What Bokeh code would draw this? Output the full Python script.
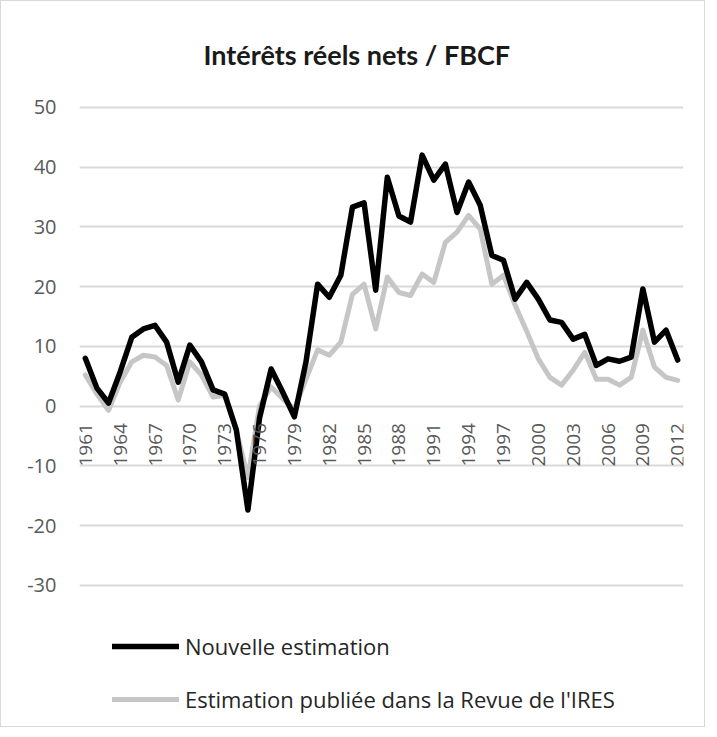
import math
from bokeh.plotting import figure
from bokeh.models import Range1d, FixedTicker, Legend, LegendItem, ColumnDataSource
from bokeh.core.properties import value
from bokeh.embed import file_html
from bokeh.resources import INLINE

# ---------------- data ----------------
years = [1961, 1962, 1963, 1964, 1965, 1966, 1967, 1968, 1969, 1970,
         1971, 1972, 1973, 1974, 1975, 1976, 1977, 1978, 1979, 1980,
         1981, 1982, 1983, 1984, 1985, 1986, 1987, 1988, 1989, 1990,
         1991, 1992, 1993, 1994, 1995, 1996, 1997, 1998, 1999, 2000,
         2001, 2002, 2003, 2004, 2005, 2006, 2007, 2008, 2009, 2010,
         2011, 2012]

nouvelle = [8.0, 3.0, 0.5, 5.7, 11.5, 12.9, 13.5, 10.7, 4.0, 10.2,
            7.4, 2.7, 2.0, -4.0, -17.4, -2.0, 6.2, 2.3, -1.8, 7.4,
            20.4, 18.2, 21.9, 33.3, 34.0, 19.4, 38.3, 31.8, 30.8, 42.0,
            37.8, 40.5, 32.4, 37.5, 33.6, 25.2, 24.4, 17.9, 20.7, 17.9,
            14.4, 14.0, 11.2, 12.0, 6.8, 7.9, 7.5, 8.2, 19.6, 10.7,
            12.7, 7.7]

ires = [5.2, 2.0, -0.7, 4.0, 7.4, 8.5, 8.2, 6.8, 1.0, 7.4,
        5.2, 1.5, 1.8, -4.0, -12.0, 0.0, 3.2, 1.2, -0.5, 4.5,
        9.4, 8.5, 10.7, 18.7, 20.4, 12.9, 21.6, 19.0, 18.5, 22.1,
        20.7, 27.4, 29.1, 31.9, 29.6, 20.4, 21.9, 16.9, 12.5, 7.9,
        4.8, 3.5, 6.0, 9.0, 4.5, 4.5, 3.5, 4.8, 12.7, 6.5,
        4.8, 4.3]

tick_years = [1961, 1964, 1967, 1970, 1973, 1976, 1979, 1982, 1985,
              1988, 1991, 1994, 1997, 2000, 2003, 2006, 2009, 2012]
tick_labels = [str(y) for y in tick_years]
tick_base = [0] * len(tick_years)

y_ticks = [-30, -20, -10, 0, 10, 20, 30, 40, 50]
y_tick_labels = {t: str(t) for t in y_ticks}

title_text = "Intérêts réels nets / FBCF"
legend_labels = ["Nouvelle estimation",
                 "Estimation publiée dans la Revue de l'IRES"]

# ---------------- figure ----------------
p = figure(width=705, height=727, output_backend="svg", toolbar_location=None,
           x_range=Range1d(1960.5, 2012.5), y_range=Range1d(-52.46, 50.3),
           min_border_left=78, min_border_right=23,
           min_border_top=104, min_border_bottom=9)
p.styles = {"border": "1px solid #d9d9d9"}
p.outline_line_color = None
p.background_fill_color = "white"
p.border_fill_color = "white"

# title
p.title.text = title_text
p.title.text_font = "Lato"
p.title.text_font_style = "bold"
p.title.text_font_size = "27px"
p.title.text_color = "#1a1a1a"
p.title.align = "left"
p.title.offset = 124
p.title.standoff = 69

# axes
p.xaxis.visible = False
p.xgrid.visible = False
p.yaxis.ticker = FixedTicker(ticks=y_ticks)
p.yaxis.major_label_overrides = y_tick_labels
p.yaxis.axis_line_color = None
p.yaxis.major_tick_line_color = None
p.yaxis.minor_tick_line_color = None
p.yaxis.major_label_standoff = 17
p.yaxis.major_label_text_font = "Open Sans"
p.yaxis.major_label_text_font_size = "20px"
p.yaxis.major_label_text_color = "#595959"

p.ygrid.ticker = FixedTicker(ticks=y_ticks)
p.ygrid.grid_line_color = "#d9d9d9"
p.ygrid.grid_line_width = 2

# series
src = ColumnDataSource(dict(year=years, nouvelle=nouvelle, ires=ires))
r_gray = p.line("year", "ires", source=src, line_color="#c6c6c6", line_width=5,
                line_join="round", line_cap="round")
r_black = p.line("year", "nouvelle", source=src, line_color="#000000", line_width=5.5,
                 line_join="round", line_cap="round")

# category labels next to the 0 axis
lab_src = ColumnDataSource(dict(x=tick_years, y=tick_base, t=tick_labels))
p.text(x="x", y="y", text="t", source=lab_src, angle=math.pi / 2,
       text_align="right", text_baseline="middle", y_offset=17,
       text_font=value("Open Sans"), text_font_size="19px", text_color="#595959")

# legend
legend = Legend(items=[LegendItem(label=legend_labels[0], renderers=[r_black]),
                       LegendItem(label=legend_labels[1], renderers=[r_gray])],
                location=(33, 5), orientation="vertical",
                glyph_width=67, glyph_height=24, label_height=24,
                spacing=23, padding=0, margin=0, label_standoff=6,
                background_fill_alpha=0, border_line_color=None,
                label_text_font="Open Sans", label_text_font_size="22px",
                label_text_color="#262626")
p.add_layout(legend)

open("out.html", "w").write(file_html(p, INLINE))
